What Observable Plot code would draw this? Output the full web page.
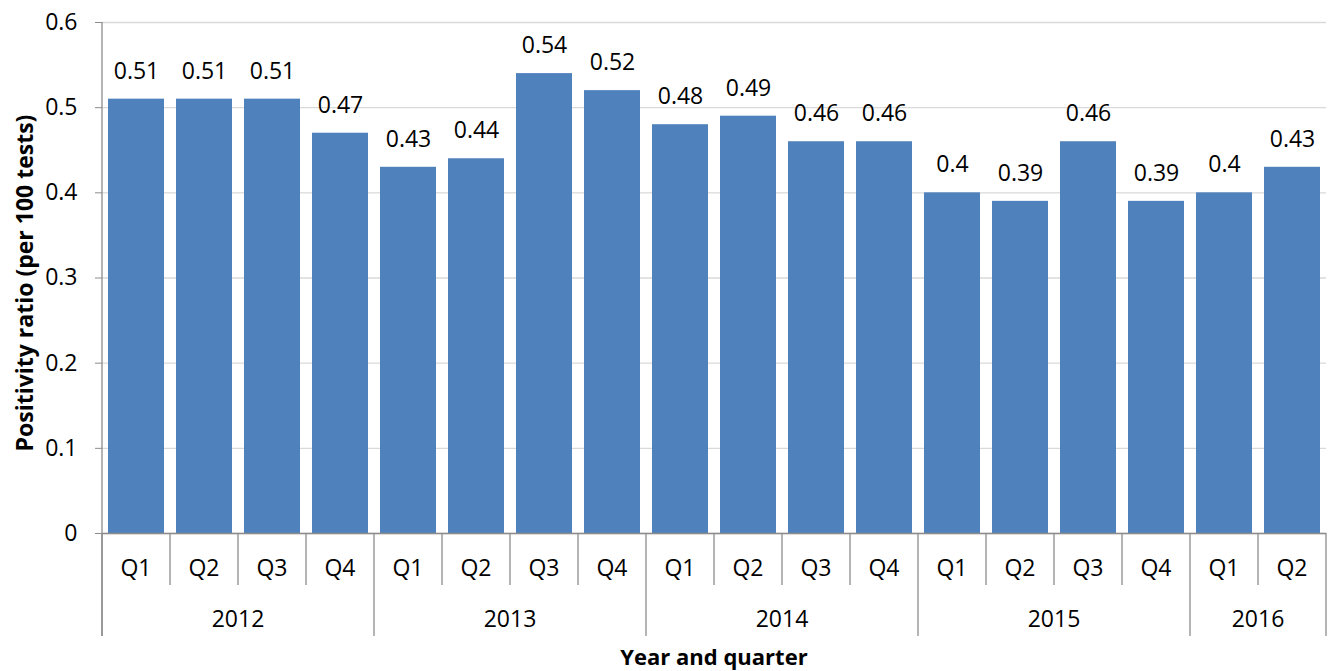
<!DOCTYPE html>
<html><head><meta charset="utf-8">
<script src="https://cdn.jsdelivr.net/npm/d3@7"></script>
<script src="https://cdn.jsdelivr.net/npm/@observablehq/plot@0.6"></script>
<style>
body{margin:0;background:#fff;}
#chart{position:relative;width:1328px;height:671px;}
</style>
</head><body><div id="chart"></div>
<script>
const years = ["2012","2012","2012","2012","2013","2013","2013","2013","2014","2014","2014","2014","2015","2015","2015","2015","2016","2016"];
const quarters = ["Q1","Q2","Q3","Q4","Q1","Q2","Q3","Q4","Q1","Q2","Q3","Q4","Q1","Q2","Q3","Q4","Q1","Q2"];
const values = [0.51,0.51,0.51,0.47,0.43,0.44,0.54,0.52,0.48,0.49,0.46,0.46,0.40,0.39,0.46,0.39,0.40,0.43];
const yTicks = [0,0.1,0.2,0.3,0.4,0.5,0.6];
const yTitle = "Positivity ratio (per 100 tests)";
const xTitle = "Year and quarter";

const data = values.map((v,i)=>({key: years[i]+" "+quarters[i], year: years[i], q: quarters[i], v}));
const keys = data.map(d=>d.key);
const font = "'Open Sans', 'Noto Sans', sans-serif";
const gray = "#8c8c8c";
const fs = 23;

function categoryAxis(index, scales, values, dims) {
  const x = scales.x, y = scales.y;
  const step = x(keys[1]) - x(keys[0]);
  const bw = x.bandwidth ? (typeof x.bandwidth === "function" ? x.bandwidth() : x.bandwidth) : step*0.824;
  const off = (step - bw)/2;
  const y0 = y(0);
  const qBottom = y0 + 52, yBottom = y0 + 103;
  const g = d3.create("svg:g").attr("font-family", font).attr("fill","#000");
  const bounds = keys.map((k,i)=>({x: x(k)-off, yearStart: i===0 || years[i]!==years[i-1]}));
  bounds.push({x: x(keys[keys.length-1]) + bw + off, yearStart: true});
  for (const b of bounds) {
    g.append("line").attr("x1",b.x).attr("x2",b.x).attr("y1",y0).attr("y2", b.yearStart? yBottom : qBottom)
      .attr("stroke",gray).attr("stroke-width",1.3);
  }
  g.append("line").attr("x1",bounds[0].x).attr("x2",bounds[0].x).attr("y1",y(0.6)).attr("y2",yBottom).attr("stroke",gray).attr("stroke-width",1.3);
  keys.forEach((k,i)=>{
    g.append("text").attr("x", x(k)+bw/2).attr("y", y0+43).attr("text-anchor","middle")
      .attr("font-size",fs).text(quarters[i]);
  });
  const uy = [...new Set(years)];
  uy.forEach(yr=>{
    const ks = keys.filter((k,i)=>years[i]===yr);
    const cx = (x(ks[0]) + x(ks[ks.length-1]) + bw)/2;
    g.append("text").attr("x", cx).attr("y", y0+94).attr("text-anchor","middle").attr("font-size",fs).text(yr);
  });
  g.append("text").attr("x", (bounds[0].x + bounds[bounds.length-1].x)/2).attr("y", y0+132)
    .attr("text-anchor","middle").attr("font-size",22).attr("font-weight","bold").text(xTitle);
  return g.node();
}

const chart = Plot.plot({
  width: 1328, height: 671,
  marginLeft: 102, marginRight: 2, marginTop: 22, marginBottom: 138,
  style: {fontFamily: font, fontSize: fs+"px", color: "#000", background: "#fff"},
  x: {domain: keys, paddingInner: 0.176, paddingOuter: 0.088, axis: null},
  y: {domain: [0, 0.6], axis: null},
  marks: [
    Plot.gridY(yTicks, {stroke: "#d9d9d9", strokeOpacity: 1, strokeWidth: 1.3}),
    Plot.axisY(yTicks, {tickSize: 7, tickPadding: 18, stroke: gray, strokeOpacity: 1, fontSize: fs, tickFormat: d=>String(d), label: null}),
    Plot.text([yTitle], {frameAnchor: "left", textAnchor: "middle", dx: -77, dy: 5, rotate: -90, fontWeight: "bold", fontSize: 23, text: d=>d}),
    Plot.barY(data, {x: "key", y: "v", fill: "#4f81bd"}),
    Plot.ruleY([0], {stroke: gray, strokeWidth: 1.3}),
    Plot.text(data, {x: "key", y: "v", text: d=>String(d.v), dy: -28, fontSize: fs, fill: "#000"}),
    categoryAxis
  ]
});
document.getElementById("chart").appendChild(chart);
</script>
</body></html>
